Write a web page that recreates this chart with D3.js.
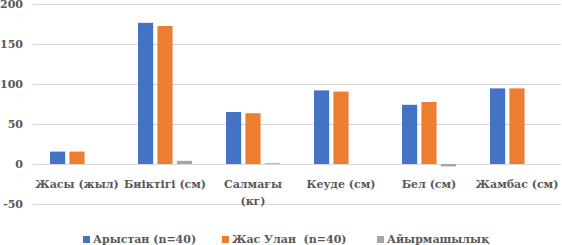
<!DOCTYPE html>
<html>
<head>
<meta charset="utf-8">
<script src="https://cdn.jsdelivr.net/npm/d3@7"></script>
<style>
  body { margin: 0; background: #fff; }
</style>
</head>
<body>
<div id="vis"></div>
<script>
// Data
const categories = ["Жасы (жыл)", "Биіктігі (см)", "Салмағы (кг)", "Кеуде (см)", "Бел (см)", "Жамбас (см)"];
const series = ["Арыстан (n=40)", "Жас Улан  (n=40)", "Айырмашылық"];
const arystan = [15.5, 176.5, 65, 92, 74, 94.5];
const zhasUlan = [15.5, 172.5, 63.5, 90.5, 77.5, 94.5];
const diff = [0, 4, 1, 0, -3, 0];
const yTicks = [-50, 0, 50, 100, 150, 200];
const colors = ["#4472C4", "#ED7D31", "#A5A5A5"];

const width = 562;
const height = 245;
const plot = { left: 33, right: 561, top: 4, bottom: 204 };
const font = "DejaVu Serif";

const svg = d3.select("#vis")
  .append("svg")
  .attr("width", width)
  .attr("height", height);

const y = d3.scaleLinear()
  .domain([-50, 200])
  .range([plot.bottom, plot.top]);

const x0 = d3.scaleBand()
  .domain(categories)
  .range([plot.left, plot.right]);

const x1 = d3.scaleBand()
  .domain(series)
  .range([17, 71])
  .paddingInner(0.22);

// gridlines
svg.append("g")
  .selectAll("line")
  .data(yTicks)
  .join("line")
  .attr("x1", plot.left)
  .attr("x2", plot.right)
  .attr("y1", d => Math.round(y(d)) + 0.5)
  .attr("y2", d => Math.round(y(d)) + 0.5)
  .attr("stroke", "#d9d9d9")
  .attr("stroke-width", 1);

// y tick labels
svg.append("g")
  .selectAll("text")
  .data(yTicks)
  .join("text")
  .attr("x", 23)
  .attr("y", d => y(d) + 4)
  .attr("text-anchor", "end")
  .attr("font-family", font)
  .attr("font-weight", "bold")
  .attr("font-size", "11px")
  .attr("fill", "#595959")
  .text(d => d);

// bars
const rows = categories.map((c, i) => ({ cat: c, vals: [arystan[i], zhasUlan[i], diff[i]] }));

const groups = svg.append("g")
  .selectAll("g")
  .data(rows)
  .join("g")
  .attr("transform", d => `translate(${x0(d.cat)},0)`);

groups.selectAll("rect")
  .data(d => d.vals.map((v, j) => ({ s: series[j], v, j })))
  .join("rect")
  .attr("x", d => x1(d.s))
  .attr("width", x1.bandwidth())
  .attr("y", d => y(Math.max(0, d.v)))
  .attr("height", d => Math.abs(y(d.v) - y(0)))
  .attr("fill", d => colors[d.j]);

// category labels (wrap "Салмағы (кг)")
const labels = svg.append("g")
  .selectAll("text")
  .data(categories)
  .join("text")
  .attr("x", d => x0(d) + x0.bandwidth() / 2)
  .attr("y", 188)
  .attr("text-anchor", "middle")
  .attr("font-family", font)
  .attr("font-weight", "bold")
  .attr("font-size", "11px")
  .attr("fill", "#595959");

labels.each(function(d) {
  const t = d3.select(this);
  if (d === "Салмағы (кг)") {
    const parts = d.split(" ");
    t.append("tspan").attr("x", x0(d) + x0.bandwidth() / 2).text(parts[0]);
    t.append("tspan").attr("x", x0(d) + x0.bandwidth() / 2).attr("dy", 17).text(parts[1]);
  } else {
    t.text(d);
  }
});

// legend
const legendX = [83, 222, 377];
const legend = svg.append("g")
  .selectAll("g")
  .data(series)
  .join("g")
  .attr("transform", (d, i) => `translate(${legendX[i]},239)`);

legend.append("rect")
  .attr("x", 0)
  .attr("y", -3)
  .attr("width", 7)
  .attr("height", 7)
  .attr("fill", (d, i) => colors[i]);

legend.append("text")
  .attr("x", 10)
  .attr("y", 4)
  .attr("font-family", font)
  .attr("font-weight", "bold")
  .attr("font-size", "11px")
  .attr("fill", "#595959")
  .style("white-space", "pre")
  .text(d => d);
</script>
</body>
</html>
